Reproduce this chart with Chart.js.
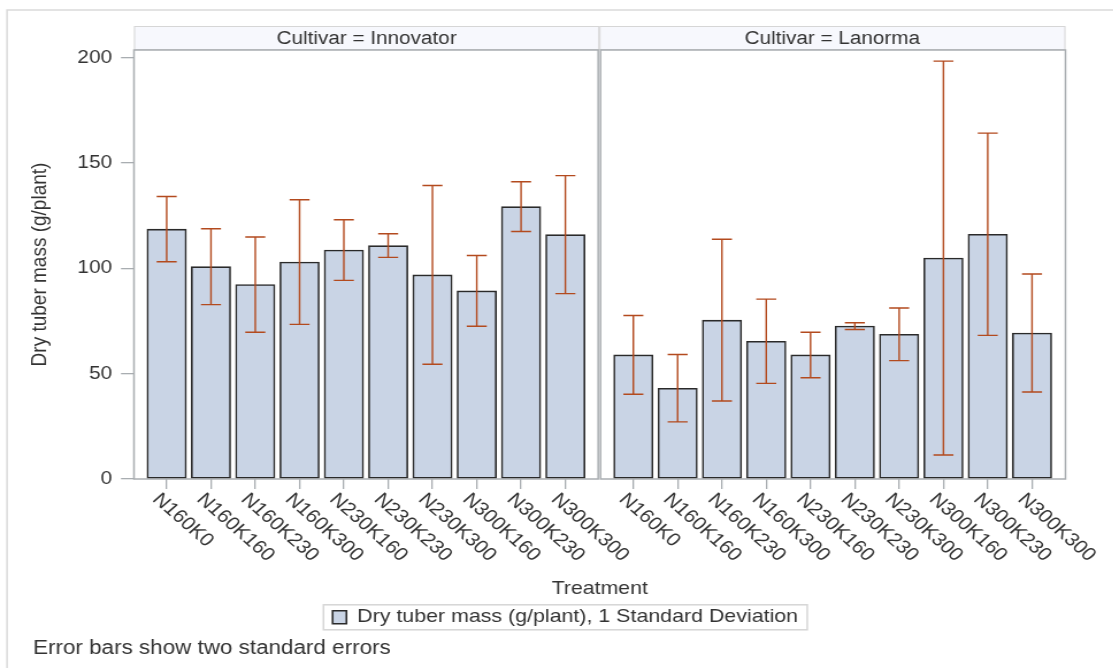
<!DOCTYPE html>
<html>
<head>
<meta charset="utf-8">
<script src="https://cdn.jsdelivr.net/npm/chart.js@4.4.1/dist/chart.umd.min.js"></script>
<style>
  html, body { margin: 0; padding: 0; background: #fff; overflow: hidden; }
  #wrap { width: 968px; height: 668px; transform: scaleX(1.15); transform-origin: 0 0; }
</style>
</head>
<body>
<div id="wrap"><canvas id="chart" width="968" height="668"></canvas></div>
<script>
const cultivars = ['Innovator', 'Lanorma'];
const treatments = ['N160K0', 'N160K160', 'N160K230', 'N160K300', 'N230K160',
  'N230K230', 'N230K300', 'N300K160', 'N300K230', 'N300K300'];
const innovatorMass = [118.6, 100.8, 92.3, 103.0, 108.7, 110.8, 96.9, 89.3, 129.3, 116.0];
const innovatorErr = [15.5, 18.0, 22.6, 29.6, 14.4, 5.6, 42.4, 16.8, 11.8, 28.0];
const lanormaMass = [58.9, 43.1, 75.4, 65.4, 58.9, 72.6, 68.7, 104.9, 116.2, 69.3];
const lanormaErr = [18.7, 16.0, 38.4, 20.0, 10.8, 1.6, 12.5, 93.5, 48.0, 28.0];
const yTicks = [0, 50, 100, 150, 200];

// the picture is drawn narrow and stretched sideways by S, like the reference
const S = 1.15;
const FONT = "'Liberation Sans', Arial, sans-serif";
const GAP = 10.535; // where the second panel starts, in category units
const TEXT = '#333';
const FRAME = '#a9adb1';

const means = [innovatorMass, lanormaMass];
const errs = [innovatorErr, lanormaErr];
const xPos = [];
const points = [];
const errBars = [];
means.forEach((arr, p) => arr.forEach((v, i) => {
  const x = i + p * GAP;
  xPos.push(x);
  points.push({ x, y: v });
  errBars.push({ x, lo: v - errs[p][i], hi: v + errs[p][i] });
}));
const xLabels = cultivars.flatMap(() => treatments);

const facets = {
  id: 'facets',
  afterLayout(chart) {
    // legend sits a little right of the plot centre in the reference
    chart.legend.left += 14;
    chart.legend.right += 14;
  },
  beforeDraw(chart) {
    const { ctx, chartArea: a, scales: { x } } = chart;
    const mid = x.getPixelForValue((treatments.length - 1 + GAP) / 2);
    ctx.save();
    // outer frame
    ctx.strokeStyle = '#dadada';
    ctx.lineWidth = 1.5;
    ctx.beginPath();
    ctx.moveTo(6.1, chart.height);
    ctx.lineTo(6.1, 10);
    ctx.lineTo(chart.width, 10);
    ctx.stroke();
    // panel headers
    [[a.left, mid], [mid, a.right]].forEach(([l, r], p) => {
      ctx.fillStyle = '#f7f8fd';
      ctx.fillRect(l, 26, r - l, a.top - 26);
      ctx.strokeStyle = '#d6d6d6';
      ctx.lineWidth = 1;
      ctx.strokeRect(l + 0.5, 26.5, r - l - 1, a.top - 27);
      ctx.fillStyle = TEXT;
      ctx.font = `18px ${FONT}`;
      ctx.textAlign = 'center';
      ctx.textBaseline = 'middle';
      ctx.fillText(`Cultivar = ${cultivars[p]}`, (l + r) / 2, (26 + a.top) / 2 + 1);
    });
    ctx.restore();
  },
  afterDatasetsDraw(chart) {
    const { ctx, chartArea: a, scales: { x, y } } = chart;
    const mid = x.getPixelForValue((treatments.length - 1 + GAP) / 2);
    ctx.save();
    // error bars
    ctx.strokeStyle = '#b34a1e';
    ctx.lineWidth = 1.4;
    const cap = 8.7;
    errBars.forEach(b => {
      const px = x.getPixelForValue(b.x);
      const top = y.getPixelForValue(b.hi);
      const bot = y.getPixelForValue(b.lo);
      ctx.beginPath();
      ctx.moveTo(px, top); ctx.lineTo(px, bot);
      ctx.moveTo(px - cap, top); ctx.lineTo(px + cap, top);
      ctx.moveTo(px - cap, bot); ctx.lineTo(px + cap, bot);
      ctx.stroke();
    });
    // panel frames
    ctx.strokeStyle = FRAME;
    ctx.lineWidth = 1.5;
    ctx.strokeRect(a.left, a.top, mid - 1 - a.left, a.bottom - a.top);
    ctx.strokeRect(mid + 1, a.top, a.right - mid - 1, a.bottom - a.top);
    ctx.restore();
  },
  afterDraw(chart) {
    const { ctx, chartArea: a, scales: { x } } = chart;
    ctx.save();
    // rotated treatment labels
    ctx.fillStyle = TEXT;
    ctx.font = `18.5px ${FONT}`;
    ctx.textAlign = 'left';
    ctx.textBaseline = 'top';
    xPos.forEach((v, i) => {
      ctx.save();
      ctx.translate(x.getPixelForValue(v) - 3, a.bottom + 11);
      ctx.rotate(Math.PI / 4);
      ctx.fillText(xLabels[i], 0, 0);
      ctx.restore();
    });
    // legend border
    const hb = chart.legend.legendHitBoxes[0];
    if (hb) {
      const cy = hb.top + hb.height / 2;
      ctx.strokeStyle = '#d6d6d6';
      ctx.lineWidth = 1.5;
      ctx.strokeRect(hb.left - 8, cy - 12.5, hb.width + 16, 25);
    }
    ctx.restore();
  }
};

new Chart(document.getElementById('chart'), {
  type: 'bar',
  data: {
    datasets: [{
      label: 'Dry tuber mass (g/plant), 1 Standard Deviation',
      data: points,
      backgroundColor: '#c9d4e5',
      borderColor: '#2a2a2a',
      borderWidth: 1.6,
      borderSkipped: false,
      barThickness: 34.2
    }]
  },
  options: {
    responsive: false,
    animation: false,
    layout: {
      padding: { top: 50, bottom: 5, left: 28.7, right: 41.5 }
    },
    scales: {
      x: {
        type: 'linear',
        offset: false,
        bounds: 'data',
        min: -0.738,
        max: 20.29,
        afterBuildTicks: (scale) => { scale.ticks = xPos.map(v => ({ value: v })); },
        afterFit: (scale) => { scale.height = 121; },
        ticks: { display: false },
        grid: { offset: false, drawOnChartArea: false, tickLength: 10, color: FRAME, lineWidth: 1.3 },
        border: { display: false },
        title: {
          display: true,
          text: 'Treatment',
          color: TEXT,
          font: { family: FONT, size: 18.5 },
          padding: { top: 0, bottom: 0 }
        }
      },
      y: {
        min: 0,
        max: 203.66,
        bounds: 'data',
        afterBuildTicks: (scale) => { scale.ticks = yTicks.map(v => ({ value: v })); },
        afterFit: (scale) => { scale.width = 87.8; },
        ticks: { color: TEXT, padding: 7.8, font: { family: FONT, size: 18 } },
        grid: { drawOnChartArea: false, tickLength: 11.3, color: FRAME, lineWidth: 1.3 },
        border: { display: false },
        title: {
          display: true,
          text: 'Dry tuber mass (g/plant)',
          color: TEXT,
          font: { family: FONT, size: 19 },
          padding: { top: -5, bottom: 0 }
        }
      }
    },
    plugins: {
      legend: {
        position: 'bottom',
        labels: {
          color: TEXT,
          font: { family: FONT, size: 18.6 },
          boxWidth: 12,
          boxHeight: 13,
          padding: 8
        }
      },
      title: {
        display: true,
        text: 'Error bars show two standard errors',
        position: 'bottom',
        align: 'start',
        color: TEXT,
        font: { family: FONT, size: 19.5, weight: 'normal' },
        padding: { top: 0, bottom: 3 }
      },
      tooltip: { enabled: false }
    }
  },
  plugins: [facets]
});
</script>
</body>
</html>
